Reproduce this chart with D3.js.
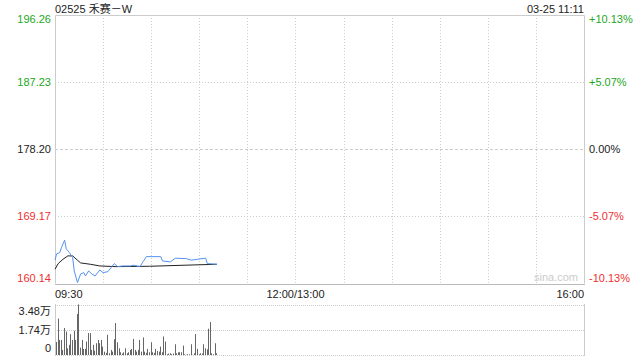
<!DOCTYPE html>
<html lang="zh">
<head>
  <meta charset="UTF-8">
  <title>02525 禾赛－W</title>
  <script src="https://cdn.jsdelivr.net/npm/d3@7"></script>
  <style>
    body { margin: 0; background: #fff; }
    text { font-family: "Liberation Sans", Arial, "Noto Sans CJK SC", sans-serif; font-size: 11px; }
  </style>
</head>
<body>
  <svg width="640" height="360"></svg>
  <script>
    // data
    var title = '02525 禾赛－W';
    var stamp = '03-25 11:11';
    var prevClose = 178.20;
    var priceTicks = [196.26, 187.23, 178.20, 169.17, 160.14];
    var pctTicks = ['+10.13%', '+5.07%', '0.00%', '-5.07%', '-10.13%'];
    var timeTicks = ['09:30', '12:00/13:00', '16:00'];
    var volTicks = ['3.48万', '1.74万', '0'];
    var volMax = 3.48; // 万

    // minutes after 09:30
    var priceMin = [0, 1, 3, 4, 6, 7, 9, 11, 12, 14, 16, 18, 19, 21, 23, 25, 28, 30, 33, 35, 37, 39, 42, 47, 49, 53, 55, 57, 66, 67, 72, 75, 82, 85, 89, 94, 95, 101];
    var price = [163.22, 164.07, 164.25, 164.92, 165.93, 164.75, 164.25, 163.57, 161.77, 160.20, 161.36, 161.54, 161.09, 161.77, 161.36, 161.09, 161.90, 161.54, 161.67, 162.21, 162.76, 162.35, 162.44, 162.44, 162.54, 162.35, 163.03, 163.70, 163.70, 163.12, 162.99, 163.49, 163.43, 163.22, 163.35, 163.49, 162.76, 162.67];
    var avgMin = [0, 2, 5, 8, 11, 14, 16, 22, 28, 38, 59, 101];
    var avg = [162.00, 162.76, 163.35, 163.80, 163.80, 163.22, 162.85, 162.67, 162.44, 162.35, 162.40, 162.67];

    // volume per minute from 09:30, in 万
    var volume = [0.90, 2.51, 1.04, 1.04, 0.35, 1.86, 1.62, 0.46, 0.70, 1.44, 1.04, 1.67, 1.04, 2.83, 3.48, 0.51, 1.04, 0.42, 0.42, 0.93, 1.51, 1.51, 0.35, 0.70, 0.30, 0.81, 1.04, 0.81, 1.04, 0.58, 0.23, 0.15, 1.39, 0.12, 0.35, 0.23, 1.09, 2.20, 0.88, 0.46, 0.19, 0.10, 0.19, 0.46, 0.12, 0.19, 0.35, 0.42, 1.11, 0.35, 0.23, 0.35,
      1.04, 0.23, 1.21, 0.23, 0.15, 0.42, 0.19, 0.88, 0.19, 0.15, 0.42, 0.28, 0.23, 0.58, 0.19, 1.28, 0.93, 0.05, 0.10, 0.12, 0.05, 0.10, 0.74, 0.12, 0.19, 0.19, 0.19, 0.65, 0.05, 0.02, 0.05, 0.05, 0.74, 0.02, 0.12, 1.44, 0.42, 0.05, 0.12, 0.10, 0.74, 0.46, 0.39, 1.81, 2.27, 0.12, 0.05, 0.81, 0.12];

    var green = '#22a822', red = '#f03030', grid = '#cccccc';
    var svg = d3.select('svg');
    var left = 55, right = 584;

    var x = d3.scaleLinear().domain([0, 330]).range([left, right]);
    var y = d3.scaleLinear().domain([160.14, 196.26]).range([283, 15.5]);
    var yv = d3.scaleLinear().domain([0, volMax]).range([355, 304.5]);

    function tickColor(i) {
      return i < 2 ? green : (i > 2 ? red : '#222');
    }

    // vertical grid every 30 minutes
    svg.append('g').selectAll('line')
      .data(d3.range(30, 330, 30))
      .enter().append('line')
      .attr('x1', function(d) { return Math.round(x(d)) + 0.5; })
      .attr('x2', function(d) { return Math.round(x(d)) + 0.5; })
      .attr('y1', 15).attr('y2', 283)
      .attr('stroke', grid).attr('stroke-dasharray', '1,2');

    // horizontal grid
    svg.append('g').selectAll('line')
      .data(priceTicks.slice(1, 4))
      .enter().append('line')
      .attr('x1', left).attr('x2', right)
      .attr('y1', function(d) { return Math.round(y(d)) + 0.5; })
      .attr('y2', function(d) { return Math.round(y(d)) + 0.5; })
      .attr('stroke', grid)
      .attr('stroke-dasharray', function(d) { return d === prevClose ? '3,2' : '1,2'; });

    // frame
    svg.append('path')
      .attr('d', 'M' + (left + 0.5) + ',283.5V15.5H' + (right + 0.5) + 'V283.5')
      .attr('fill', 'none').attr('stroke', grid);
    svg.append('line')
      .attr('x1', left).attr('x2', right + 1).attr('y1', 284.5).attr('y2', 284.5)
      .attr('stroke', '#bbb');

    // left price labels
    svg.append('g').selectAll('text')
      .data(priceTicks)
      .enter().append('text')
      .attr('x', 51)
      .attr('y', function(d, i) { return y(d) + (i === 0 ? 4 : (i === 4 ? -5 : 0)); })
      .attr('dy', '0.35em')
      .attr('text-anchor', 'end')
      .attr('fill', function(d, i) { return tickColor(i); })
      .text(function(d) { return d.toFixed(2); });

    // right percent labels
    svg.append('g').selectAll('text')
      .data(pctTicks)
      .enter().append('text')
      .attr('x', 589)
      .attr('y', function(d, i) { return y(priceTicks[i]) + (i === 0 ? 4 : (i === 4 ? -5 : 0)); })
      .attr('dy', '0.35em')
      .attr('fill', function(d, i) { return tickColor(i); })
      .text(function(d) { return d; });

    // title and timestamp
    svg.append('text').attr('x', left).attr('y', 13).attr('font-size', '13px').attr('fill', '#222').text(title);
    svg.append('text').attr('x', right).attr('y', 13).attr('text-anchor', 'end').attr('fill', '#222').text(stamp);

    // watermark
    svg.append('text').attr('x', 578).attr('y', 281).attr('text-anchor', 'end')
      .attr('fill', '#ccc').text('sina.com');

    // time labels
    svg.append('g').selectAll('text')
      .data(timeTicks)
      .enter().append('text')
      .attr('x', function(d, i) { return x([0, 150, 330][i]); })
      .attr('y', 298)
      .attr('text-anchor', function(d, i) { return ['start', 'middle', 'end'][i]; })
      .attr('fill', '#222')
      .text(function(d) { return d; });

    // average line
    svg.append('path')
      .datum(d3.range(avg.length))
      .attr('fill', 'none').attr('stroke', '#222').attr('stroke-width', 1)
      .attr('d', d3.line()
        .x(function(i) { return x(avgMin[i]); })
        .y(function(i) { return y(avg[i]); }));

    // price line
    svg.append('path')
      .datum(d3.range(price.length))
      .attr('fill', 'none').attr('stroke', '#5592f0').attr('stroke-width', 1)
      .attr('d', d3.line()
        .x(function(i) { return x(priceMin[i]); })
        .y(function(i) { return y(price[i]); }));

    // volume panel grid
    svg.append('g').selectAll('line')
      .data([volMax, volMax / 2, 0])
      .enter().append('line')
      .attr('x1', left).attr('x2', right)
      .attr('y1', function(d) { return Math.round(yv(d)) + 0.5; })
      .attr('y2', function(d) { return Math.round(yv(d)) + 0.5; })
      .attr('stroke', grid).attr('stroke-dasharray', '1,1');
    svg.append('line').attr('x1', left + 0.5).attr('x2', left + 0.5).attr('y1', 304).attr('y2', 356).attr('stroke', grid);
    svg.append('line').attr('x1', right + 0.5).attr('x2', right + 0.5).attr('y1', 304).attr('y2', 356).attr('stroke', grid);

    svg.append('g').selectAll('text')
      .data(volTicks)
      .enter().append('text')
      .attr('x', 51)
      .attr('y', function(d, i) { return yv([volMax, volMax / 2, 0][i]) + (i === 0 ? 7 : (i === 2 ? -7 : 0)); })
      .attr('dy', '0.35em')
      .attr('text-anchor', 'end')
      .attr('fill', '#222')
      .text(function(d) { return d; });

    // volume bars
    svg.append('g').selectAll('rect')
      .data(volume)
      .enter().append('rect')
      .attr('x', function(d, i) { return Math.round(x(i)) + 1; })
      .attr('width', 1)
      .attr('y', function(d) { return yv(d); })
      .attr('height', function(d) { return 355 - yv(d); })
      .attr('fill', '#666');
  </script>
</body>
</html>
